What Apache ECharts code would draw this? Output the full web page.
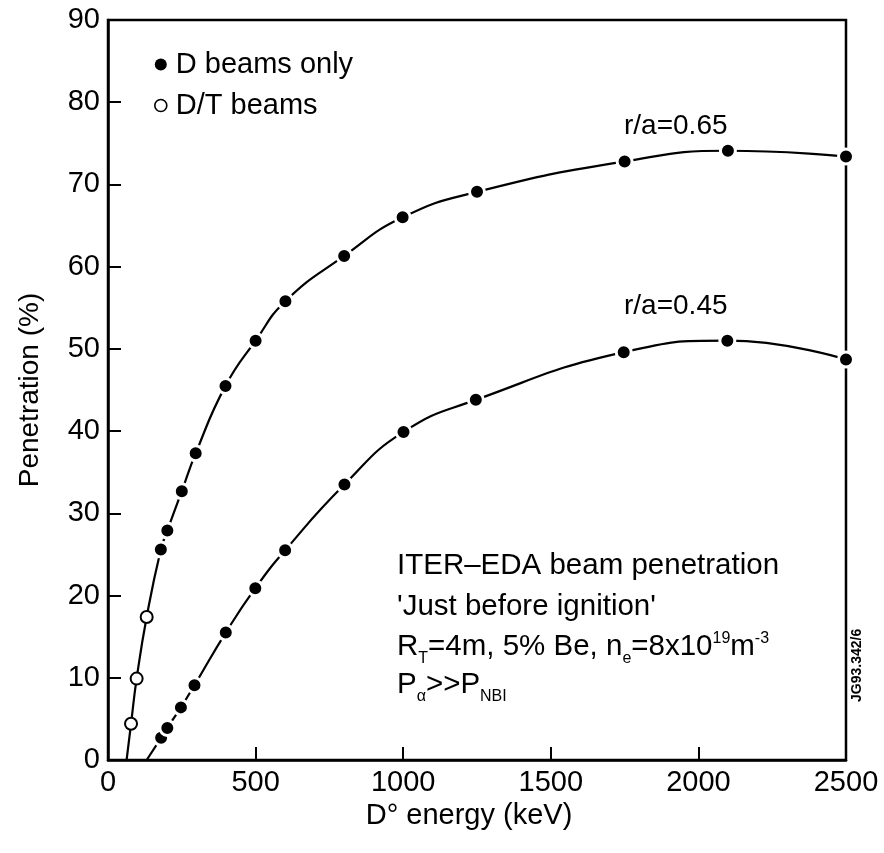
<!DOCTYPE html>
<html><head><meta charset="utf-8">
<script src="https://cdn.jsdelivr.net/npm/echarts@6/dist/echarts.min.js"></script>
<style>html,body{margin:0;padding:0;background:#fff}#c{width:884px;height:853px}</style>
</head><body><div id="c"></div>
<script>
// Data (energy keV, penetration %)
const outerD_E = [179, 201, 250, 297, 398, 500, 601, 800, 998, 1250, 1750, 2100, 2500];
const outerD_P = [25.6, 27.9, 32.7, 37.3, 45.5, 51.0, 55.8, 61.3, 66.0, 69.1, 72.8, 74.1, 73.4];
const outerDT_E = [78, 97, 131];
const outerDT_P = [4.4, 9.9, 17.4];
const outerStart = [63, 0];
const innerD_E = [180, 201, 247, 293, 399, 499, 600, 801, 1001, 1246, 1747, 2098, 2500];
const innerD_P = [2.7, 3.9, 6.4, 9.1, 15.5, 20.9, 25.5, 33.5, 39.9, 43.8, 49.6, 51.0, 48.7];
const innerStart = [131, 0];
const xTicks = [0, 500, 1000, 1500, 2000, 2500];
const yTicks = [0, 10, 20, 30, 40, 50, 60, 70, 80, 90];

const zip = (a, b) => a.map((v, i) => [v, b[i]]);
const outerCurve = [outerStart].concat(zip(outerDT_E, outerDT_P), zip(outerD_E, outerD_P));
const innerCurve = [innerStart].concat(zip(innerD_E, innerD_P));

const FONT = '"Liberation Sans", Arial, Helvetica, sans-serif';
const chart = echarts.init(document.getElementById('c'), null, {renderer: 'canvas'});
chart.setOption({
  backgroundColor: '#fff',
  animation: false,
  textStyle: {fontFamily: FONT, color: '#000'},
  grid: {left: 108, right: 38, top: 20, bottom: 93, show: true, borderColor: '#000', borderWidth: 2.5, backgroundColor: 'transparent'},
  legend: {
    orient: 'vertical', left: 149, top: 45, itemGap: 12, itemWidth: 12, itemHeight: 12,
    icon: 'circle',
    data: [
      {name: 'D beams only', itemStyle: {color: '#000', borderWidth: 0, opacity: 1}},
      {name: 'D/T beams', itemStyle: {color: '#fff', borderColor: '#000', borderWidth: 1.6, opacity: 1}}
    ],
    textStyle: {fontSize: 29, fontFamily: FONT, color: '#000', padding: [0, 0, 0, 4]}
  },
  xAxis: {
    type: 'value', min: xTicks[0], max: xTicks[xTicks.length - 1], interval: 500,
    name: 'D° energy (keV)', nameLocation: 'middle', nameGap: 29,
    nameTextStyle: {fontSize: 29, fontFamily: FONT, color: '#000', verticalAlign: 'top', padding: [0, 16, 0, 0]},
    axisLine: {show: true, lineStyle: {color: '#000', width: 2.5}},
    axisTick: {show: true, inside: true, length: 13, lineStyle: {color: '#000', width: 2}},
    axisLabel: {fontSize: 29, fontFamily: FONT, color: '#000', margin: 8, formatter: v => String(v)},
    splitLine: {show: false}
  },
  yAxis: {
    type: 'value', min: yTicks[0], max: yTicks[yTicks.length - 1], interval: 10,
    name: 'Penetration (%)', nameLocation: 'middle', nameGap: 64, nameRotate: 90,
    nameTextStyle: {fontSize: 28, fontFamily: FONT, color: '#000'},
    axisLine: {show: true, lineStyle: {color: '#000', width: 2.5}},
    axisTick: {show: true, inside: true, length: 13, lineStyle: {color: '#000', width: 2}},
    axisLabel: {fontSize: 29, fontFamily: FONT, color: '#000', margin: 8, formatter: v => String(v)},
    splitLine: {show: false}
  },
  series: [
    {name: 'curve065', type: 'line', data: outerCurve, smooth: 0.5, showSymbol: false,
     lineStyle: {color: '#000', width: 2.2}, silent: true, z: 2},
    {name: 'curve045', type: 'line', data: innerCurve, smooth: 0.5, showSymbol: false,
     lineStyle: {color: '#000', width: 2.2}, silent: true, z: 2},
    {name: 'D beams only', type: 'scatter', data: zip(outerD_E, outerD_P).concat(zip(innerD_E, innerD_P)),
     symbol: 'circle', symbolSize: 15, itemStyle: {color: '#000', borderColor: '#fff', borderWidth: 3, opacity: 1}, z: 3},
    {name: 'D/T beams', type: 'scatter', data: zip(outerDT_E, outerDT_P),
     symbol: 'circle', symbolSize: 12, itemStyle: {color: '#fff', borderColor: '#000', borderWidth: 2, opacity: 1}, z: 3}
  ],
  graphic: [
    {type: 'text', left: 624, top: 112, style: {text: 'r/a=0.65', font: '28px ' + FONT, fill: '#000'}},
    {type: 'text', left: 624, top: 292, style: {text: 'r/a=0.45', font: '28px ' + FONT, fill: '#000'}},
    {type: 'text', left: 397, top: 551, style: {text: 'ITER–EDA beam penetration', font: '29.5px ' + FONT, fill: '#000'}},
    {type: 'text', left: 397, top: 592, style: {text: "'Just before ignition'", font: '29.5px ' + FONT, fill: '#000'}},
    {type: 'text', left: 397, top: 627, style: {
      rich: {
        a: {fontSize: 29.5, fontFamily: FONT, color: '#000', lineHeight: 40, verticalAlign: 'middle'},
        sub: {fontSize: 16, fontFamily: FONT, color: '#000', lineHeight: 16, verticalAlign: 'bottom', padding: [0, 0, 0, 0]},
        sup: {fontSize: 16, fontFamily: FONT, color: '#000', lineHeight: 16, verticalAlign: 'top', padding: [4, 0, 0, 0]}
      },
      text: '{a|R}{sub|T}{a|=4m, 5% Be, n}{sub|e}{a|=8x10}{sup|19}{a|m}{sup|-3}'
    }},
    {type: 'text', left: 397, top: 670, style: {
      rich: {
        a: {fontSize: 29.5, fontFamily: FONT, color: '#000', lineHeight: 40, verticalAlign: 'middle'},
        sub: {fontSize: 16, fontFamily: FONT, color: '#000', lineHeight: 16, verticalAlign: 'bottom', padding: [0, 0, 0, 0]}
      },
      text: '{a|P}{sub|α}{a|>>P}{sub|NBI}'
    }},
    {type: 'text', x: 857, y: 702, rotation: Math.PI / 2, style: {text: 'JG93.342/6', font: 'bold 14px ' + FONT, fill: '#000', align: 'left', verticalAlign: 'middle'}}
  ]
});
</script>
</body></html>
